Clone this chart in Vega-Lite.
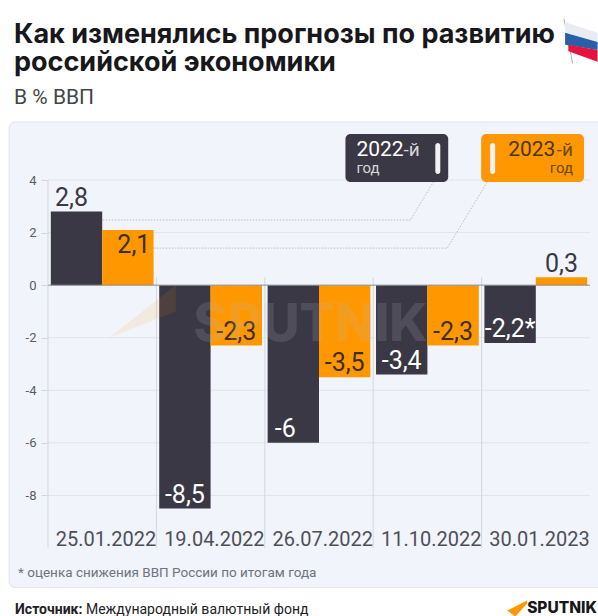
{"$schema":"https://vega.github.io/schema/vega-lite/v6.json","width":542,"height":368,"autosize":"none","padding":{"left":48,"top":180,"right":8,"bottom":68},"background":"white","config":{"view":{"stroke":null},"font":"Roboto"},
"title":{"text":["Как изменялись прогнозы по развитию","российской экономики"],"subtitle":"В % ВВП","anchor":"start","frame":"group","dx":-34,"offset":-92,"font":"Inter","fontSize":27,"fontWeight":700,"color":"#17171c","lineHeight":28,"subtitleFont":"Roboto","subtitleFontSize":21,"subtitleColor":"#444","subtitlePadding":10},
"datasets":{"forecast":[
{"date":"25.01.2022","series":"2022","value":2.8,"label":"2,8"},{"date":"25.01.2022","series":"2023","value":2.1,"label":"2,1"},
{"date":"19.04.2022","series":"2022","value":-8.5,"label":"-8,5"},{"date":"19.04.2022","series":"2023","value":-2.3,"label":"-2,3"},
{"date":"26.07.2022","series":"2022","value":-6,"label":"-6"},{"date":"26.07.2022","series":"2023","value":-3.5,"label":"-3,5"},
{"date":"11.10.2022","series":"2022","value":-3.4,"label":"-3,4"},{"date":"11.10.2022","series":"2023","value":-2.3,"label":"-2,3"},
{"date":"30.01.2023","series":"2022","value":-2.2,"label":"-2,2*"},{"date":"30.01.2023","series":"2023","value":0.3,"label":"0,3"}]},
"resolve":{"scale":{"x":"independent","y":"independent"},"axis":{"x":"independent","y":"independent"}},
"layer":[
{"layer":[
{"data":{"values":[{"x":-0.359,"x2":5.138,"y":6.21,"y2":-11.505}]},"mark":{"type":"rect","fill":"#f1f4fb","stroke":"#e2e5ea","cornerRadius":6},"encoding":{"x":{"field":"x","type":"quantitative","scale":{"domain":[0,5],"nice":false,"zero":false},"axis":null},"x2":{"field":"x2"},"y":{"field":"y","type":"quantitative","scale":{"domain":[-10,4],"nice":false},"axis":null},"y2":{"field":"y2"}}}
]},
{"layer":[
{"data":{"values":[{"v":4},{"v":2},{"v":-2},{"v":-4},{"v":-6},{"v":-8}]},"mark":{"type":"rule","stroke":"#e1e4ea","strokeWidth":1},"encoding":{"y":{"field":"v","type":"quantitative","scale":{"domain":[-10,4],"nice":false}}}},
{"data":{"values":[{"date":"25.01.2022","a":-10,"b":4},{"date":"19.04.2022","a":-10,"b":0.3},{"date":"26.07.2022","a":-10,"b":0.3},{"date":"11.10.2022","a":-10,"b":0.3},{"date":"30.01.2023","a":-10,"b":0.3}]},"mark":{"type":"rule","stroke":"#d3d7df","strokeWidth":1},"encoding":{"x":{"field":"date","type":"nominal","sort":null,"bandPosition":0,"scale":{"paddingInner":0,"paddingOuter":0}},"y":{"field":"a","type":"quantitative","scale":{"domain":[-10,4],"nice":false}},"y2":{"field":"b"}}},
{"data":{"name":"forecast"},"mark":{"type":"bar"},"encoding":{
"x":{"field":"date","type":"nominal","sort":null,"scale":{"paddingInner":0,"paddingOuter":0},"axis":{"title":null,"orient":"bottom","domain":false,"ticks":false,"labelOffset":54,"labelAngle":0,"labelPadding":-9,"labelFontSize":20,"labelColor":"#4d4f57","labelFont":"Roboto","zindex":1}},
"xOffset":{"field":"series","type":"nominal","scale":{"paddingInner":0,"paddingOuter":0.055}},
"y":{"field":"value","type":"quantitative","scale":{"domain":[-10,4],"nice":false},"axis":{"title":null,"values":[4,2,0,-2,-4,-6,-8],"labelExpr":"replace(datum.label,'−','-')","grid":false,"domain":false,"tickSize":7,"tickColor":"#d3d7df","labelFontSize":13,"labelColor":"#5a5c64","labelPadding":5,"labelFont":"Roboto","zindex":1}},
"color":{"field":"series","type":"nominal","scale":{"domain":["2022","2023"],"range":["#3a3844","#ff9800"]},"legend":null}}},
{"data":{"values":[{"v":0}]},"mark":{"type":"rule","stroke":"#8a8d95","strokeWidth":1},"encoding":{"y":{"field":"v","type":"quantitative","scale":{"domain":[-10,4],"nice":false}}}},
{"data":{"name":"forecast"},"transform":[{"filter":"datum.series=='2022' && datum.value<0 && datum.value!=-6"}],"mark":{"type":"text","font":"Roboto","fontSize":25,"color":"#ffffff","baseline":"middle","dy":-14},"encoding":{"x":{"field":"date","type":"nominal","sort":null,"scale":{"paddingInner":0,"paddingOuter":0}},"xOffset":{"field":"series","type":"nominal","scale":{"paddingInner":0,"paddingOuter":0.055}},"y":{"field":"value","type":"quantitative","scale":{"domain":[-10,4],"nice":false}},"text":{"field":"label"}}},
{"data":{"name":"forecast"},"transform":[{"filter":"datum.value==-6"}],"mark":{"type":"text","font":"Roboto","fontSize":25,"color":"#ffffff","baseline":"middle","dy":-14,"dx":-8},"encoding":{"x":{"field":"date","type":"nominal","sort":null,"scale":{"paddingInner":0,"paddingOuter":0}},"xOffset":{"field":"series","type":"nominal","scale":{"paddingInner":0,"paddingOuter":0.055}},"y":{"field":"value","type":"quantitative","scale":{"domain":[-10,4],"nice":false}},"text":{"field":"label"}}},
{"data":{"name":"forecast"},"transform":[{"filter":"datum.series=='2023' && datum.value<0"}],"mark":{"type":"text","font":"Roboto","fontSize":25,"color":"#3d2e1c","baseline":"middle","dy":-14},"encoding":{"x":{"field":"date","type":"nominal","sort":null,"scale":{"paddingInner":0,"paddingOuter":0}},"xOffset":{"field":"series","type":"nominal","scale":{"paddingInner":0,"paddingOuter":0.055}},"y":{"field":"value","type":"quantitative","scale":{"domain":[-10,4],"nice":false}},"text":{"field":"label"}}},
{"data":{"name":"forecast"},"transform":[{"filter":"datum.value==2.1"}],"mark":{"type":"text","font":"Roboto","fontSize":25,"color":"#3d2e1c","baseline":"middle","dy":15,"dx":6},"encoding":{"x":{"field":"date","type":"nominal","sort":null,"scale":{"paddingInner":0,"paddingOuter":0}},"xOffset":{"field":"series","type":"nominal","scale":{"paddingInner":0,"paddingOuter":0.055}},"y":{"field":"value","type":"quantitative","scale":{"domain":[-10,4],"nice":false}},"text":{"field":"label"}}},
{"data":{"name":"forecast"},"transform":[{"filter":"datum.value==2.8"}],"mark":{"type":"text","font":"Roboto","fontSize":25,"color":"#3a3844","baseline":"middle","dy":-14,"dx":-5},"encoding":{"x":{"field":"date","type":"nominal","sort":null,"scale":{"paddingInner":0,"paddingOuter":0}},"xOffset":{"field":"series","type":"nominal","scale":{"paddingInner":0,"paddingOuter":0.055}},"y":{"field":"value","type":"quantitative","scale":{"domain":[-10,4],"nice":false}},"text":{"field":"label"}}},
{"data":{"name":"forecast"},"transform":[{"filter":"datum.value==0.3"}],"mark":{"type":"text","font":"Roboto","fontSize":25,"color":"#3a3844","baseline":"middle","dy":-13},"encoding":{"x":{"field":"date","type":"nominal","sort":null,"scale":{"paddingInner":0,"paddingOuter":0}},"xOffset":{"field":"series","type":"nominal","scale":{"paddingInner":0,"paddingOuter":0.055}},"y":{"field":"value","type":"quantitative","scale":{"domain":[-10,4],"nice":false}},"text":{"field":"label"}}}
]},
{"layer":[
{"data":{"values":[{"x":0.562,"y":-2.0,"y2":-2.0},{"x":1.179,"y":0,"y2":-1.0}]},"mark":{"type":"area","fill":"#ff9800","opacity":0.1},"encoding":{"x":{"field":"x","type":"quantitative","scale":{"domain":[0,5],"nice":false,"zero":false},"axis":null},"y":{"field":"y","type":"quantitative","scale":{"domain":[-10,4],"nice":false},"axis":null},"y2":{"field":"y2"}}},
{"data":{"values":[{"x":2.422,"y":-1.52,"t":"SPUTNIK"}]},"mark":{"type":"text","font":"Inter","fontWeight":800,"fontSize":52,"fill":"#b8bcc8","opacity":0.16},"encoding":{"x":{"field":"x","type":"quantitative","scale":{"domain":[0,5],"nice":false,"zero":false},"axis":null},"y":{"field":"y","type":"quantitative","scale":{"domain":[-10,4],"nice":false},"axis":null},"text":{"field":"t"}}},
{"data":{"values":[{"id":"a","x":0.506,"y":2.476},{"id":"a","x":3.343,"y":2.476},{"id":"a","x":3.6,"y":4.229},{"id":"b","x":0.976,"y":1.41},{"id":"b","x":3.683,"y":1.41},{"id":"b","x":4.052,"y":3.924}]},"mark":{"type":"line","stroke":"#b9bcc4","strokeWidth":1,"strokeDash":[1.5,1.5]},"encoding":{"x":{"field":"x","type":"quantitative","scale":{"domain":[0,5],"nice":false,"zero":false},"axis":null},"y":{"field":"y","type":"quantitative","scale":{"domain":[-10,4],"nice":false},"axis":null},"detail":{"field":"id"}}},
{"data":{"values":[{"x":2.744,"x2":3.692,"y":5.752,"y2":3.924}]},"mark":{"type":"rect","fill":"#3a3844","cornerRadius":5},"encoding":{"x":{"field":"x","type":"quantitative","scale":{"domain":[0,5],"nice":false,"zero":false},"axis":null},"x2":{"field":"x2"},"y":{"field":"y","type":"quantitative","scale":{"domain":[-10,4],"nice":false},"axis":null},"y2":{"field":"y2"}}},
{"data":{"values":[{"x":3.996,"x2":4.945,"y":5.752,"y2":3.924}]},"mark":{"type":"rect","fill":"#ff9800","cornerRadius":5},"encoding":{"x":{"field":"x","type":"quantitative","scale":{"domain":[0,5],"nice":false,"zero":false},"axis":null},"x2":{"field":"x2"},"y":{"field":"y","type":"quantitative","scale":{"domain":[-10,4],"nice":false},"axis":null},"y2":{"field":"y2"}}},
{"data":{"values":[{"x":3.573,"x2":3.619,"y":5.41,"y2":4.229},{"x":4.079,"x2":4.125,"y":5.41,"y2":4.229}]},"mark":{"type":"rect","fill":"#f1f2f5","cornerRadius":2.5},"encoding":{"x":{"field":"x","type":"quantitative","scale":{"domain":[0,5],"nice":false,"zero":false},"axis":null},"x2":{"field":"x2"},"y":{"field":"y","type":"quantitative","scale":{"domain":[-10,4],"nice":false},"axis":null},"y2":{"field":"y2"}}},
{"data":{"values":[{"x":2.845,"y":5.143,"t":"2022"}]},"mark":{"type":"text","font":"Roboto","fontSize":21,"color":"#ffffff","align":"left","baseline":"middle"},"encoding":{"x":{"field":"x","type":"quantitative","scale":{"domain":[0,5],"nice":false,"zero":false},"axis":null},"y":{"field":"y","type":"quantitative","scale":{"domain":[-10,4],"nice":false},"axis":null},"text":{"field":"t"}}},
{"data":{"values":[{"x":3.28,"y":5.143,"t":"-й"}]},"mark":{"type":"text","font":"Roboto","fontSize":19,"color":"#d5d6da","align":"left","baseline":"middle"},"encoding":{"x":{"field":"x","type":"quantitative","scale":{"domain":[0,5],"nice":false,"zero":false},"axis":null},"y":{"field":"y","type":"quantitative","scale":{"domain":[-10,4],"nice":false},"axis":null},"text":{"field":"t"}}},
{"data":{"values":[{"x":2.845,"y":4.457,"t":"год"}]},"mark":{"type":"text","font":"Roboto","fontSize":15,"color":"#d5d6da","align":"left","baseline":"middle"},"encoding":{"x":{"field":"x","type":"quantitative","scale":{"domain":[0,5],"nice":false,"zero":false},"axis":null},"y":{"field":"y","type":"quantitative","scale":{"domain":[-10,4],"nice":false},"axis":null},"text":{"field":"t"}}},
{"data":{"values":[{"x":4.245,"y":5.143,"t":"2023"}]},"mark":{"type":"text","font":"Roboto","fontSize":21,"color":"#4a3410","align":"left","baseline":"middle"},"encoding":{"x":{"field":"x","type":"quantitative","scale":{"domain":[0,5],"nice":false,"zero":false},"axis":null},"y":{"field":"y","type":"quantitative","scale":{"domain":[-10,4],"nice":false},"axis":null},"text":{"field":"t"}}},
{"data":{"values":[{"x":4.843,"y":5.143,"t":"-й"}]},"mark":{"type":"text","font":"Roboto","fontSize":19,"color":"#6b4a10","align":"right","baseline":"middle"},"encoding":{"x":{"field":"x","type":"quantitative","scale":{"domain":[0,5],"nice":false,"zero":false},"axis":null},"y":{"field":"y","type":"quantitative","scale":{"domain":[-10,4],"nice":false},"axis":null},"text":{"field":"t"}}},
{"data":{"values":[{"x":4.843,"y":4.457,"t":"год"}]},"mark":{"type":"text","font":"Roboto","fontSize":15,"color":"#6b4a10","align":"right","baseline":"middle"},"encoding":{"x":{"field":"x","type":"quantitative","scale":{"domain":[0,5],"nice":false,"zero":false},"axis":null},"y":{"field":"y","type":"quantitative","scale":{"domain":[-10,4],"nice":false},"axis":null},"text":{"field":"t"}}},
{"data":{"values":[{"x":-0.276,"y":-10.97,"t":"* оценка снижения ВВП России по итогам года"}]},"mark":{"type":"text","font":"Roboto","fontSize":13.5,"color":"#70737b","align":"left","baseline":"middle"},"encoding":{"x":{"field":"x","type":"quantitative","scale":{"domain":[0,5],"nice":false,"zero":false},"axis":null},"y":{"field":"y","type":"quantitative","scale":{"domain":[-10,4],"nice":false},"axis":null},"text":{"field":"t"}}},
{"data":{"values":[{"x":-0.304,"y":-12.34,"t":"Источник:"}]},"mark":{"type":"text","font":"Roboto","fontSize":14,"fontWeight":700,"color":"#222226","align":"left","baseline":"middle"},"encoding":{"x":{"field":"x","type":"quantitative","scale":{"domain":[0,5],"nice":false,"zero":false},"axis":null},"y":{"field":"y","type":"quantitative","scale":{"domain":[-10,4],"nice":false},"axis":null},"text":{"field":"t"}}},
{"data":{"values":[{"x":0.35,"y":-12.34,"t":"Международный валютный фонд"}]},"mark":{"type":"text","font":"Roboto","fontSize":14,"color":"#222226","align":"left","baseline":"middle"},"encoding":{"x":{"field":"x","type":"quantitative","scale":{"domain":[0,5],"nice":false,"zero":false},"axis":null},"y":{"field":"y","type":"quantitative","scale":{"domain":[-10,4],"nice":false},"axis":null},"text":{"field":"t"}}},
{"data":{"values":[{"x":4.42,"y":-12.3,"t":"SPUTNIK"}]},"mark":{"type":"text","font":"Inter","fontSize":15.5,"fontWeight":800,"color":"#17171c","align":"left","baseline":"middle"},"encoding":{"x":{"field":"x","type":"quantitative","scale":{"domain":[0,5],"nice":false,"zero":false},"axis":null},"y":{"field":"y","type":"quantitative","scale":{"domain":[-10,4],"nice":false},"axis":null},"text":{"field":"t"}}},
{"data":{"values":[{"x":4.236,"y":-12.38,"y2":-12.38},{"x":4.31,"y":-12.23,"y2":-12.61},{"x":4.42,"y":-12.0,"y2":-12.11}]},"mark":{"type":"area","fill":"#ff9800"},"encoding":{"x":{"field":"x","type":"quantitative","scale":{"domain":[0,5],"nice":false,"zero":false},"axis":null},"y":{"field":"y","type":"quantitative","scale":{"domain":[-10,4],"nice":false},"axis":null},"y2":{"field":"y2"}}},
{"data":{"values":[{"x":4.76,"y":10.13},{"x":4.84,"y":8.43}]},"mark":{"type":"line","stroke":"#aab0ba","strokeWidth":1},"encoding":{"x":{"field":"x","type":"quantitative","scale":{"domain":[0,5],"nice":false,"zero":false},"axis":null},"y":{"field":"y","type":"quantitative","scale":{"domain":[-10,4],"nice":false},"axis":null}}},
{"data":{"values":[{"x":4.77,"y":10.0,"y2":9.6},{"x":5.07,"y":9.6,"y2":9.25}]},"mark":{"type":"area","fill":"#e9ecf3"},"encoding":{"x":{"field":"x","type":"quantitative","scale":{"domain":[0,5],"nice":false,"zero":false},"axis":null},"y":{"field":"y","type":"quantitative","scale":{"domain":[-10,4],"nice":false},"axis":null},"y2":{"field":"y2"}}},
{"data":{"values":[{"x":4.77,"y":9.6,"y2":9.15},{"x":5.07,"y":9.25,"y2":8.95}]},"mark":{"type":"area","fill":"#2a5fa8"},"encoding":{"x":{"field":"x","type":"quantitative","scale":{"domain":[0,5],"nice":false,"zero":false},"axis":null},"y":{"field":"y","type":"quantitative","scale":{"domain":[-10,4],"nice":false},"axis":null},"y2":{"field":"y2"}}},
{"data":{"values":[{"x":4.8,"y":9.15,"y2":8.9},{"x":5.07,"y":8.95,"y2":8.5}]},"mark":{"type":"area","fill":"#e3143f"},"encoding":{"x":{"field":"x","type":"quantitative","scale":{"domain":[0,5],"nice":false,"zero":false},"axis":null},"y":{"field":"y","type":"quantitative","scale":{"domain":[-10,4],"nice":false},"axis":null},"y2":{"field":"y2"}}}
]}
]}
